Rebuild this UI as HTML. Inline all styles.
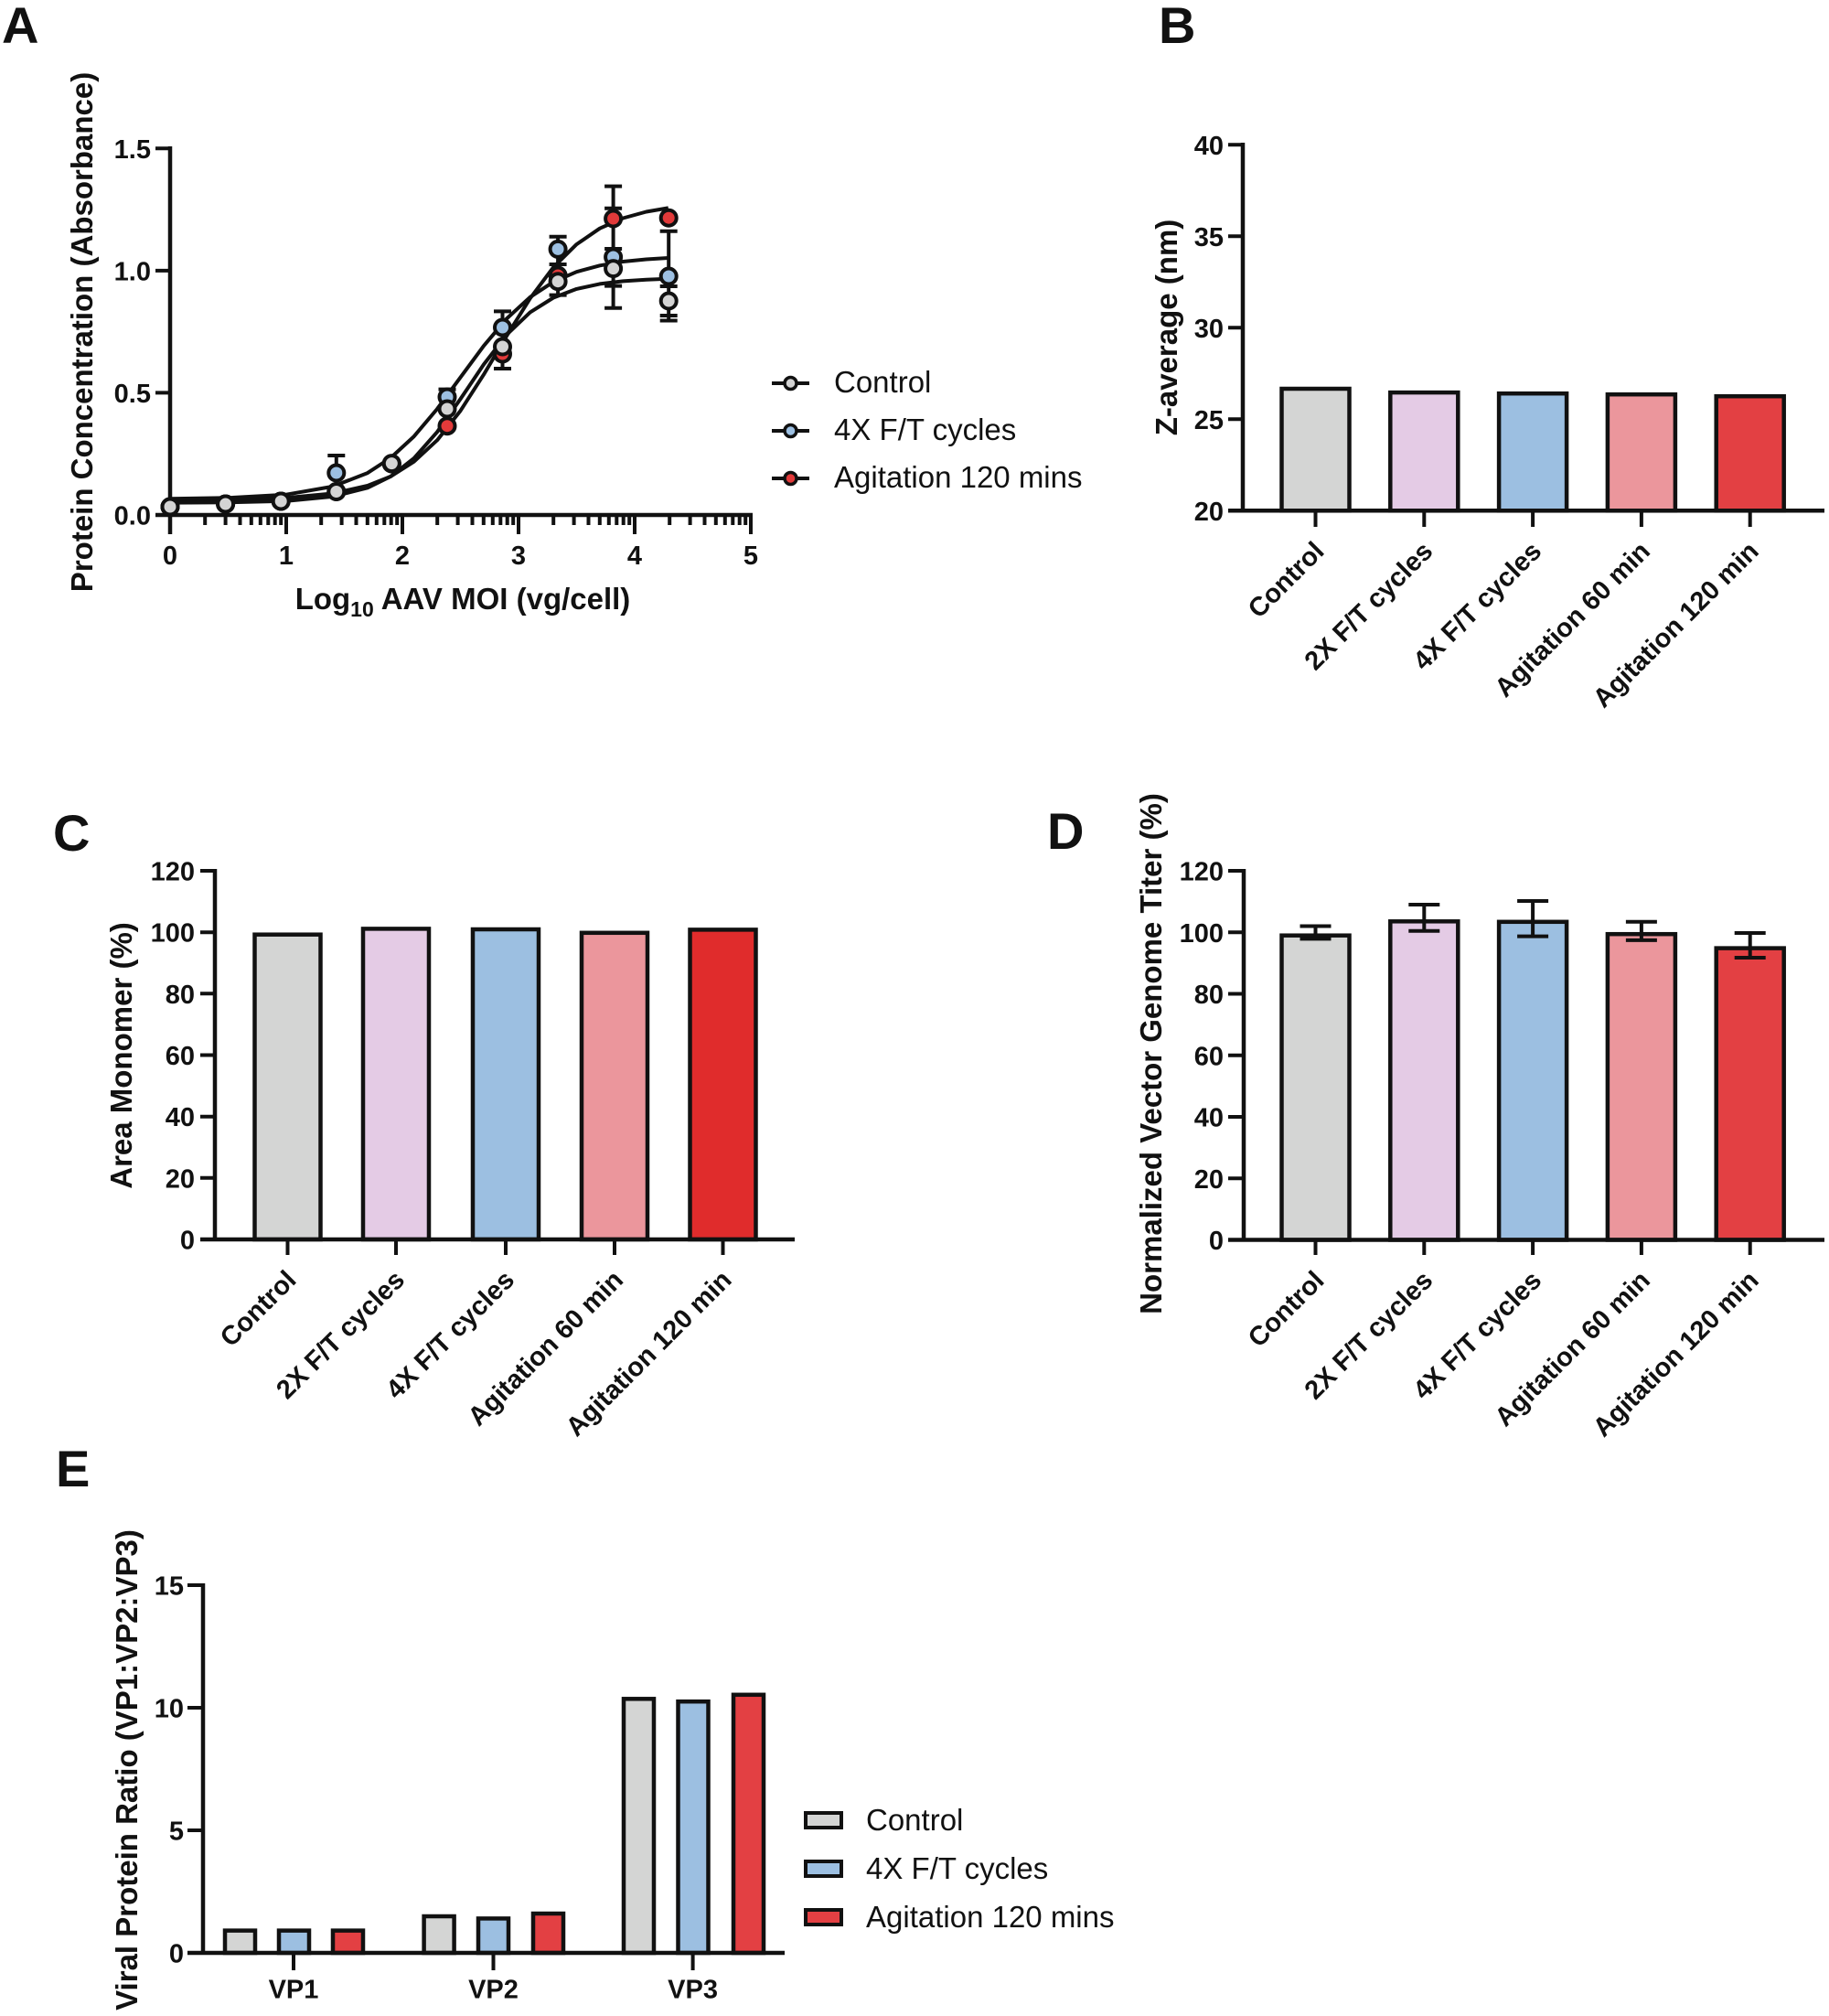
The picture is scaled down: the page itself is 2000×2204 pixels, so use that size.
<!DOCTYPE html>
<html>
<head>
<meta charset="utf-8">
<style>
  html, body { margin:0; padding:0; background:#ffffff; }
  svg { display:block; }
  text { font-family: "Liberation Sans", Arial, Helvetica, sans-serif; fill:#111; }
  .b { font-weight:bold; }
  .tick { font-size:29px; font-weight:bold; }
  .title { font-size:33px; font-weight:bold; }
  .letter { font-size:56px; font-weight:bold; }
  .leg { font-size:33px; }
  .ax { stroke:#111; stroke-width:4.5; fill:none; }
  .tk { stroke:#111; stroke-width:4; fill:none; }
  .bar { stroke:#111; stroke-width:4.5; }
  .eb { stroke:#111; stroke-width:4; fill:none; }
  .curve { stroke:#111; stroke-width:4; fill:none; stroke-linejoin:round; }
  .pt { stroke:#111; stroke-width:4; }
</style>
</head>
<body>
<svg width="2000" height="2204" viewBox="0 0 2000 2204" xmlns="http://www.w3.org/2000/svg">
<rect x="0" y="0" width="2000" height="2204" fill="#ffffff"/>

<!-- ================= Panel letters ================= -->
<text class="letter" x="2" y="47">A</text>
<text class="letter" x="1267" y="47">B</text>
<text class="letter" x="58" y="930">C</text>
<text class="letter" x="1145" y="928">D</text>
<text class="letter" x="61" y="1625">E</text>

<!-- ================= Panel A ================= -->
<g>
  <!-- axes -->
  <line class="ax" x1="186" y1="160" x2="186" y2="584"/>
  <line class="ax" x1="170" y1="563" x2="823" y2="563"/>
  <!-- y ticks -->
  <path class="tk" d="M170 429.4 H186 M170 295.9 H186 M170 162.3 H186"/>
  <!-- x major ticks -->
  <path class="tk" d="M313 563 V584 M440 563 V584 M567 563 V584 M694 563 V584 M821 563 V584"/>
  <!-- x minor ticks -->
  <path class="tk" stroke-width="3.5" d="
    M224.2 563 v11 M246.6 563 v11 M262.5 563 v11 M274.8 563 v11 M284.8 563 v11 M293.3 563 v11 M300.7 563 v11 M307.2 563 v11
    M351.2 563 v11 M373.6 563 v11 M389.5 563 v11 M401.8 563 v11 M411.8 563 v11 M420.3 563 v11 M427.7 563 v11 M434.2 563 v11
    M478.2 563 v11 M500.6 563 v11 M516.5 563 v11 M528.8 563 v11 M538.8 563 v11 M547.3 563 v11 M554.7 563 v11 M561.2 563 v11
    M605.2 563 v11 M627.6 563 v11 M643.5 563 v11 M655.8 563 v11 M665.8 563 v11 M674.3 563 v11 M681.7 563 v11 M688.2 563 v11
    M732.2 563 v11 M754.6 563 v11 M770.5 563 v11 M782.8 563 v11 M792.8 563 v11 M801.3 563 v11 M808.7 563 v11 M815.2 563 v11"/>
  <!-- y tick labels -->
  <g class="tick" text-anchor="end">
    <text x="165" y="573.5">0.0</text>
    <text x="165" y="440">0.5</text>
    <text x="165" y="306.5">1.0</text>
    <text x="165" y="173">1.5</text>
  </g>
  <!-- x tick labels -->
  <g class="tick" text-anchor="middle">
    <text x="186" y="617">0</text>
    <text x="313" y="617">1</text>
    <text x="440" y="617">2</text>
    <text x="567" y="617">3</text>
    <text x="694" y="617">4</text>
    <text x="821" y="617">5</text>
  </g>
  <!-- axis titles -->
  <text class="title" x="506" y="666" text-anchor="middle">Log<tspan font-size="23" dy="8">10</tspan><tspan dy="-8"> AAV MOI (vg/cell)</tspan></text>
  <text class="title" text-anchor="middle" transform="translate(101,363) rotate(-90)">Protein Concentration (Absorbance)</text>

  <!-- curves -->
  <polyline class="curve" points="186,546.8 249.5,546.3 313,544.3 363.8,539.5 401.9,531 427.3,520.8 452.7,504.7 478.1,481.2 503.5,449.1 528.9,409.6 554.3,366.8 579.7,326.2 605.1,292.2 630.5,267.1 655.9,249.7 681.3,238.5 706.7,231.5 730.8,227.4"/>
  <polyline class="curve" points="186,545.3 249.5,544.3 313,540.7 363.8,531.9 401.9,517.1 427.3,500.5 452.7,477.1 478.1,447 503.5,412.6 528.9,378.2 554.3,348.1 579.7,324.8 605.1,308.2 630.5,297.2 655.9,290.3 681.3,286 706.7,283.5 730.8,282"/>
  <polyline class="curve" points="186,549.6 249.5,549.2 313,547.7 363.8,542.9 401.9,533.3 427.3,520.8 452.7,501 478.1,472.2 503.5,436.2 528.9,398.5 554.3,365.7 579.7,341.4 605.1,325.5 630.5,315.9 655.9,310.4 681.3,307.4 706.7,305.7 730.8,304.8"/>

  <!-- error bars -->
  <path class="eb" d="
    M367.8 498 V517 M358.3 498 H377.3
    M489 425.6 V434 M479.5 425.6 H498.5
    M549.5 340.4 V403 M540 340.4 H559 M540 403 H559
    M610.1 258.7 V322.6 M600.6 258.7 H619.6 M600.6 289 H619.6 M600.6 322.6 H619.6
    M670.6 203.6 V336.7 M661.1 203.6 H680.1 M661.1 227.8 H680.1 M661.1 272 H680.1 M661.1 312.6 H680.1 M661.1 336.7 H680.1
    M731.2 252.7 V350.5 M721.7 252.7 H740.7 M721.7 313 H740.7 M721.7 345 H740.7 M721.7 350.5 H740.7"/>

  <!-- points: red -->
  <g class="pt" fill="#e23a3a">
    <circle cx="186" cy="554" r="8.5"/>
    <circle cx="246.6" cy="551" r="8.5"/>
    <circle cx="307.2" cy="548" r="8.5"/>
    <circle cx="367.8" cy="537.5" r="8.5"/>
    <circle cx="428.3" cy="507" r="8.5"/>
    <circle cx="489" cy="465.7" r="8.5"/>
    <circle cx="549.5" cy="387" r="8.5"/>
    <circle cx="610.1" cy="301" r="8.5"/>
    <circle cx="670.6" cy="239" r="8.5"/>
    <circle cx="731.2" cy="238.2" r="8.5"/>
  </g>
  <!-- points: blue -->
  <g class="pt" fill="#9dc0e2">
    <circle cx="186" cy="554" r="8.5"/>
    <circle cx="246.6" cy="551" r="8.5"/>
    <circle cx="307.2" cy="548" r="8.5"/>
    <circle cx="367.8" cy="517" r="8.5"/>
    <circle cx="428.3" cy="507" r="8.5"/>
    <circle cx="489" cy="434" r="8.5"/>
    <circle cx="549.5" cy="358" r="8.5"/>
    <circle cx="610.1" cy="272.4" r="8.5"/>
    <circle cx="670.6" cy="281" r="8.5"/>
    <circle cx="731.2" cy="302" r="8.5"/>
  </g>
  <!-- points: gray -->
  <g class="pt" fill="#d4d4d4">
    <circle cx="186" cy="554" r="8.5"/>
    <circle cx="246.6" cy="551" r="8.5"/>
    <circle cx="307.2" cy="548" r="8.5"/>
    <circle cx="367.8" cy="537.5" r="8.5"/>
    <circle cx="428.3" cy="506.6" r="8.5"/>
    <circle cx="489" cy="447" r="8.5"/>
    <circle cx="549.5" cy="379" r="8.5"/>
    <circle cx="610.1" cy="307.7" r="8.5"/>
    <circle cx="670.6" cy="293.6" r="8.5"/>
    <circle cx="731.2" cy="329" r="8.5"/>
  </g>

  <!-- legend -->
  <g>
    <line x1="844" y1="419" x2="885" y2="419" stroke="#111" stroke-width="4"/>
    <circle cx="864.5" cy="419" r="6.5" fill="#d4d4d4" stroke="#111" stroke-width="3.5"/>
    <text class="leg" x="912" y="429">Control</text>
    <line x1="844" y1="471" x2="885" y2="471" stroke="#111" stroke-width="4"/>
    <circle cx="864.5" cy="471" r="6.5" fill="#9dc0e2" stroke="#111" stroke-width="3.5"/>
    <text class="leg" x="912" y="481">4X F/T cycles</text>
    <line x1="844" y1="523" x2="885" y2="523" stroke="#111" stroke-width="4"/>
    <circle cx="864.5" cy="523" r="6.5" fill="#e23a3a" stroke="#111" stroke-width="3.5"/>
    <text class="leg" x="912" y="533">Agitation 120 mins</text>
  </g>
</g>

<!-- ================= Panel B ================= -->
<g>
  <rect class="bar" x="1401.5" y="425" width="74" height="133.3" fill="#d4d5d4"/>
  <rect class="bar" x="1520.3" y="429.1" width="74" height="129.2" fill="#e4cbe5"/>
  <rect class="bar" x="1639.1" y="430.2" width="74" height="128.1" fill="#9cbfe1"/>
  <rect class="bar" x="1757.9" y="431.2" width="74" height="127.1" fill="#eb969c"/>
  <rect class="bar" x="1876.7" y="433.2" width="74" height="125.1" fill="#e34043"/>
  <line class="ax" x1="1359" y1="156" x2="1359" y2="558.3"/>
  <line class="ax" x1="1343" y1="558.3" x2="1995" y2="558.3"/>
  <path class="tk" d="M1343 158.3 H1359 M1343 258.3 H1359 M1343 358.3 H1359 M1343 458.3 H1359"/>
  <path class="tk" d="M1438.5 558 V576 M1557.3 558 V576 M1676.1 558 V576 M1794.9 558 V576 M1913.7 558 V576"/>
  <g class="tick" text-anchor="end">
    <text x="1338" y="168.8">40</text>
    <text x="1338" y="268.8">35</text>
    <text x="1338" y="368.8">30</text>
    <text x="1338" y="468.8">25</text>
    <text x="1338" y="568.8">20</text>
  </g>
  <g class="tick" text-anchor="end">
    <text transform="translate(1449.5,604.3) rotate(-45)">Control</text>
    <text transform="translate(1568.3,604.3) rotate(-45)">2X F/T cycles</text>
    <text transform="translate(1687.1,604.3) rotate(-45)">4X F/T cycles</text>
    <text transform="translate(1805.9,604.3) rotate(-45)">Agitation 60 min</text>
    <text transform="translate(1924.7,604.3) rotate(-45)">Agitation 120 min</text>
  </g>
  <text class="title" text-anchor="middle" transform="translate(1287,358) rotate(-90)">Z-average (nm)</text>
</g>

<!-- ================= Panel C ================= -->
<g>
  <rect class="bar" x="278.5" y="1021.7" width="72" height="333.3" fill="#d4d5d4"/>
  <rect class="bar" x="397" y="1015.4" width="72" height="339.6" fill="#e4cbe5"/>
  <rect class="bar" x="517" y="1016" width="72" height="339" fill="#9cbfe1"/>
  <rect class="bar" x="636" y="1019.8" width="72" height="335.2" fill="#eb969c"/>
  <rect class="bar" x="754.5" y="1016.4" width="72" height="338.6" fill="#e02c2c"/>
  <line class="ax" x1="235" y1="950" x2="235" y2="1355"/>
  <line class="ax" x1="219" y1="1355" x2="869" y2="1355"/>
  <path class="tk" d="M219 952 H235 M219 1019.2 H235 M219 1086.3 H235 M219 1153.5 H235 M219 1220.7 H235 M219 1287.8 H235"/>
  <path class="tk" d="M314.5 1355 V1372 M433 1355 V1372 M553 1355 V1372 M672 1355 V1372 M790.5 1355 V1372"/>
  <g class="tick" text-anchor="end">
    <text x="213" y="962.5">120</text>
    <text x="213" y="1029.7">100</text>
    <text x="213" y="1096.8">80</text>
    <text x="213" y="1164">60</text>
    <text x="213" y="1231.2">40</text>
    <text x="213" y="1298.3">20</text>
    <text x="213" y="1365.5">0</text>
  </g>
  <g class="tick" text-anchor="end">
    <text transform="translate(325.5,1401) rotate(-45)">Control</text>
    <text transform="translate(444,1401) rotate(-45)">2X F/T cycles</text>
    <text transform="translate(564,1401) rotate(-45)">4X F/T cycles</text>
    <text transform="translate(683,1401) rotate(-45)">Agitation 60 min</text>
    <text transform="translate(801.5,1401) rotate(-45)">Agitation 120 min</text>
  </g>
  <text class="title" text-anchor="middle" transform="translate(144,1154) rotate(-90)">Area Monomer (%)</text>
</g>

<!-- ================= Panel D ================= -->
<g>
  <rect class="bar" x="1401.5" y="1022.7" width="74" height="332.8" fill="#d4d5d4"/>
  <rect class="bar" x="1520.3" y="1007.3" width="74" height="348.2" fill="#e4cbe5"/>
  <rect class="bar" x="1639.1" y="1007.8" width="74" height="347.7" fill="#9cbfe1"/>
  <rect class="bar" x="1757.9" y="1021.2" width="74" height="334.3" fill="#eb969c"/>
  <rect class="bar" x="1876.7" y="1036.6" width="74" height="318.9" fill="#e34043"/>
  <path class="eb" stroke-width="4.5" d="
    M1438.5 1012.5 V1026.4 M1421.5 1012.5 H1455.5 M1421.5 1026.4 H1455.5
    M1557.3 989 V1017.8 M1540.3 989 H1574.3 M1540.3 1017.8 H1574.3
    M1676.1 985 V1023.6 M1659.1 985 H1693.1 M1659.1 1023.6 H1693.1
    M1794.9 1007.7 V1027.9 M1777.9 1007.7 H1811.9 M1777.9 1027.9 H1811.9
    M1913.7 1020 V1047 M1896.7 1020 H1930.7 M1896.7 1047 H1930.7"/>
  <line class="ax" x1="1360" y1="950" x2="1360" y2="1355.5"/>
  <line class="ax" x1="1343" y1="1355.5" x2="1995" y2="1355.5"/>
  <path class="tk" d="M1343 952 H1360 M1343 1019.3 H1360 M1343 1086.5 H1360 M1343 1153.8 H1360 M1343 1221 H1360 M1343 1288.3 H1360"/>
  <path class="tk" d="M1438.5 1355 V1372 M1557.3 1355 V1372 M1676.1 1355 V1372 M1794.9 1355 V1372 M1913.7 1355 V1372"/>
  <g class="tick" text-anchor="end">
    <text x="1338" y="962.5">120</text>
    <text x="1338" y="1029.8">100</text>
    <text x="1338" y="1097">80</text>
    <text x="1338" y="1164.3">60</text>
    <text x="1338" y="1231.5">40</text>
    <text x="1338" y="1298.8">20</text>
    <text x="1338" y="1366">0</text>
  </g>
  <g class="tick" text-anchor="end">
    <text transform="translate(1449.5,1401.5) rotate(-45)">Control</text>
    <text transform="translate(1568.3,1401.5) rotate(-45)">2X F/T cycles</text>
    <text transform="translate(1687.1,1401.5) rotate(-45)">4X F/T cycles</text>
    <text transform="translate(1805.9,1401.5) rotate(-45)">Agitation 60 min</text>
    <text transform="translate(1924.7,1401.5) rotate(-45)">Agitation 120 min</text>
  </g>
  <text class="title" text-anchor="middle" transform="translate(1270,1152) rotate(-90)">Normalized Vector Genome Titer (%)</text>
</g>

<!-- ================= Panel E ================= -->
<g>
  <!-- VP1 -->
  <rect class="bar" x="246" y="2110.6" width="33" height="24.4" fill="#d4d5d4"/>
  <rect class="bar" x="305" y="2110.6" width="33" height="24.4" fill="#9cbfe1"/>
  <rect class="bar" x="364" y="2110.6" width="33" height="24.4" fill="#e34043"/>
  <!-- VP2 -->
  <rect class="bar" x="463.6" y="2095" width="33" height="40" fill="#d4d5d4"/>
  <rect class="bar" x="523" y="2097.4" width="33" height="37.6" fill="#9cbfe1"/>
  <rect class="bar" x="583" y="2092" width="33" height="43" fill="#e34043"/>
  <!-- VP3 -->
  <rect class="bar" x="682" y="1857.3" width="33" height="277.7" fill="#d4d5d4"/>
  <rect class="bar" x="741.5" y="1860.2" width="33" height="274.8" fill="#9cbfe1"/>
  <rect class="bar" x="802" y="1852.8" width="33" height="282.2" fill="#e34043"/>
  <line class="ax" x1="222" y1="1731" x2="222" y2="2135"/>
  <line class="ax" x1="205" y1="2135" x2="858" y2="2135"/>
  <path class="tk" d="M205 1733 H222 M205 1867 H222 M205 2001 H222"/>
  <path class="tk" d="M321 2135 V2154 M539.5 2135 V2154 M757.6 2135 V2154"/>
  <g class="tick" text-anchor="end">
    <text x="201" y="1743.5">15</text>
    <text x="201" y="1877.5">10</text>
    <text x="201" y="2011.5">5</text>
    <text x="201" y="2145.5">0</text>
  </g>
  <g class="tick" text-anchor="middle">
    <text x="321" y="2184.5">VP1</text>
    <text x="539.5" y="2184.5">VP2</text>
    <text x="757.6" y="2184.5">VP3</text>
  </g>
  <text class="title" text-anchor="middle" transform="translate(150,1935) rotate(-90)">Viral Protein Ratio (VP1:VP2:VP3)</text>

  <!-- legend -->
  <rect x="881" y="1982" width="39" height="16" fill="#d4d5d4" stroke="#111" stroke-width="4"/>
  <text class="leg" x="947" y="2001">Control</text>
  <rect x="881" y="2035" width="39" height="16" fill="#9cbfe1" stroke="#111" stroke-width="4"/>
  <text class="leg" x="947" y="2054">4X F/T cycles</text>
  <rect x="881" y="2088" width="39" height="16" fill="#e34043" stroke="#111" stroke-width="4"/>
  <text class="leg" x="947" y="2107">Agitation 120 mins</text>
</g>

</svg>
</body>
</html>
